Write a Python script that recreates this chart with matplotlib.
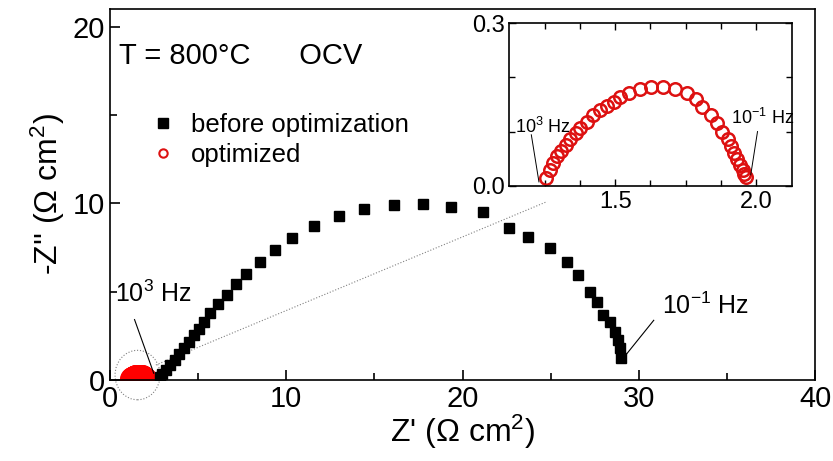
import numpy as np
from matplotlib import pyplot as plt
from matplotlib.lines import Line2D
from matplotlib.patches import Ellipse

# data ------------------------------------------------------------
# before optimization (main plot), Z' and -Z'' in ohm cm2
x_before = [2.82, 2.96, 3.15, 3.39, 3.66, 3.90, 4.19, 4.47, 4.75, 5.04,
            5.32, 5.70, 6.12, 6.61, 7.12, 7.69, 8.50, 9.37, 10.35, 11.60,
            12.98, 14.40, 16.14, 17.77, 19.37, 21.17, 22.62, 23.72, 24.99, 25.93,
            26.53, 27.26, 27.63, 27.97, 28.39, 28.67, 28.80, 28.92, 29.01]
y_before = [0.19, 0.34, 0.56, 0.85, 1.13, 1.45, 1.79, 2.16, 2.54, 2.91,
            3.28, 3.79, 4.28, 4.83, 5.41, 6.01, 6.67, 7.38, 8.04, 8.69,
            9.26, 9.67, 9.92, 9.95, 9.82, 9.52, 8.58, 8.11, 7.45, 6.70,
            5.92, 4.97, 4.41, 3.66, 3.28, 2.72, 2.25, 1.79, 1.25]

# optimized (inset + main)
x_opt = [1.256, 1.268, 1.280, 1.294, 1.309, 1.325, 1.341, 1.360, 1.377, 1.400,
         1.423, 1.447, 1.470, 1.497, 1.518, 1.548, 1.588, 1.627, 1.671, 1.713,
         1.753, 1.785, 1.809, 1.839, 1.862, 1.880, 1.898, 1.910, 1.921, 1.933,
         1.941, 1.951, 1.957, 1.962]
y_opt = [0.014, 0.029, 0.041, 0.054, 0.065, 0.075, 0.086, 0.097, 0.106, 0.118,
         0.131, 0.140, 0.147, 0.155, 0.163, 0.171, 0.178, 0.182, 0.182, 0.178,
         0.171, 0.160, 0.146, 0.131, 0.115, 0.100, 0.086, 0.073, 0.061, 0.049,
         0.038, 0.029, 0.022, 0.016]

# plotting --------------------------------------------------------
plt.rcParams['font.family'] = ['Liberation Sans', 'DejaVu Sans']
plt.rcParams['mathtext.fontset'] = 'custom'
plt.rcParams['mathtext.rm'] = 'Liberation Sans'
plt.rcParams['mathtext.it'] = 'Liberation Sans:italic'
plt.rcParams['axes.linewidth'] = 1.2

fontsize = 21
fig = plt.figure(figsize=(8.33, 4.61), dpi=100)
ax = fig.add_axes([0.1321, 0.1757, 0.8463, 0.8048])

ax.plot(x_before, y_before, 's', color='k', ms=6.8, zorder=3)
ax.plot(x_opt, y_opt, 'o', mfc='red', mec='red', ms=17, zorder=2, clip_on=True)

# zoom marker around the optimized spectrum
ax.add_patch(Ellipse((1.56, 0.28), 2.55, 2.8, fill=False, ec='grey', lw=0.8,
                     ls=':', clip_on=False))
ax.plot([2.6, 24.8], [0.85, 10.1], ':', color='grey', lw=0.8)

ax.set_xlim(0, 40)
ax.set_ylim(0, 21)
ax.set_xticks(np.arange(0, 41, 10))
ax.set_xticks(np.arange(5, 40, 10), minor=True)
ax.set_yticks([0, 10, 20])
ax.set_yticks([5, 15], minor=True)
ax.tick_params(which='both', direction='in', labelsize=fontsize, width=1.2)
ax.tick_params(which='major', length=7)
ax.tick_params(which='minor', length=5)
ax.set_xlabel(r"Z' ($\Omega$ cm$^{2}$)", fontsize=23, labelpad=0)
ax.set_ylabel(r"-Z'' ($\Omega$ cm$^{2}$)", fontsize=23, labelpad=4)

ax.text(0.5, 17.86, 'T = 800°C      OCV', fontsize=fontsize, va='baseline')

ax.text(0.3, 4.9, r'10$^{3}$ Hz', fontsize=18, va='center')
ax.plot([1.39, 2.48], [3.42, 0.38], '-', color='k', lw=0.8)
ax.text(31.3, 4.2, r'10$^{-1}$ Hz', fontsize=18, va='center')
ax.plot([30.85, 29.3], [3.38, 1.46], '-', color='k', lw=0.8)

handles = [Line2D([], [], marker='s', ls='none', color='k', ms=7),
           Line2D([], [], marker='o', ls='none', mfc='none', mec='#dd1111', mew=1.5, ms=6)]
ax.legend(handles, ['before optimization', 'optimized'], loc='upper left',
          bbox_to_anchor=(0.057, 0.72), frameon=False, fontsize=18.5,
          handlelength=1.0, handletextpad=0.6, borderpad=0, borderaxespad=0,
          labelspacing=0.25)

# inset
axi = fig.add_axes([0.6114, 0.5972, 0.339, 0.3523])
axi.plot(x_opt, y_opt, 'o', mfc='none', mec='#dd1111', mew=1.8, ms=9, clip_on=False)
axi.set_xlim(1.125, 2.125)
axi.set_ylim(0, 0.3)
axi.set_xticks([1.5, 2.0])
axi.set_xticklabels(['1.5', '2.0'])
axi.set_xticks([1.25, 1.375, 1.625, 1.75, 1.875], minor=True)
axi.set_yticks([0.0, 0.3])
axi.set_yticklabels(['0.0', '0.3'])
axi.set_yticks([0.1, 0.2], minor=True)
axi.tick_params(which='both', direction='in', top=True, right=True,
                labelsize=17, width=1.0)
axi.tick_params(which='major', length=5)
axi.tick_params(which='minor', length=4)

axi.text(1.144, 0.109, r'10$^{3}$ Hz', fontsize=13, va='center')
axi.plot([1.203, 1.230], [0.094, 0.007], '-', color='k', lw=0.7)
axi.text(1.910, 0.125, r'10$^{-1}$ Hz', fontsize=13, va='center')
axi.plot([2.004, 1.980], [0.100, 0.020], '-', color='k', lw=0.7)

plt.savefig('out.png', dpi=100)
